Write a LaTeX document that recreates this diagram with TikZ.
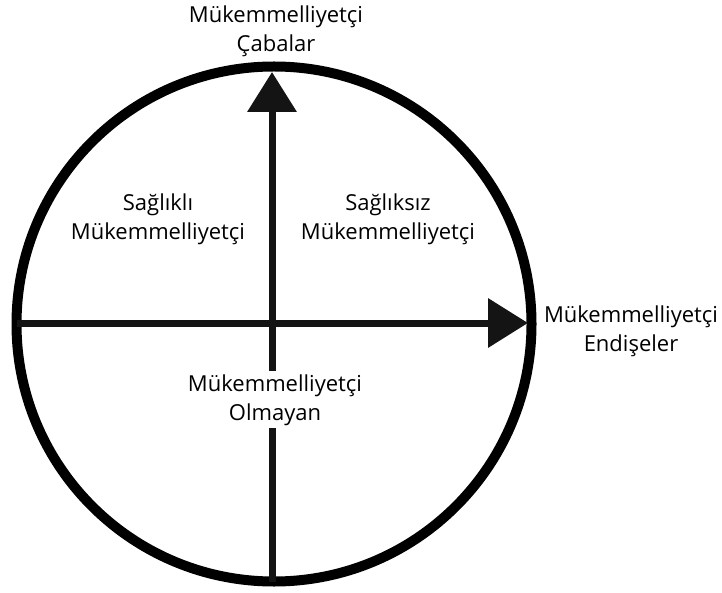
\documentclass[tikz,border=0pt]{standalone}
\usepackage{fontspec}
\setmainfont{Open Sans}
\usetikzlibrary{arrows.meta}
\begin{document}
\begin{tikzpicture}[x=1pt,y=-1pt,
  lbl/.style={align=center,inner sep=0pt,anchor=base,font=\fontsize{22}{29}\selectfont,text=black},
  axis/.style={line width=7pt,draw=black!92,-{Triangle[length=40pt,width=48pt]}}]
\useasboundingbox (0,0) rectangle (722,593);
% outer ring
\draw[line width=10pt] (274,324) circle[radius=257.5];
% axis end points
\coordinate (west) at (17,323);
\coordinate (east) at (528,323);
\coordinate (south) at (272,582);
\coordinate (north) at (272,72);
\draw[axis] (west) -- (east);
\draw[axis] (south) -- (north);
% labels (the base anchor sits on the last line's baseline)
\node[lbl] (top) at (276,52) {Mükemmelliyetçi\\Çabalar};
\node[lbl] (right) at (631,351) {Mükemmelliyetçi\\Endişeler};
\node[lbl] (healthy) at (158,240) {Sağlıklı\\Mükemmelliyetçi};
\node[lbl] (unhealthy) at (388,240) {Sağlıksız\\Mükemmelliyetçi};
\node[lbl,fill=white,inner ysep=3pt] (non) at (275,420) {Mükemmelliyetçi\\Olmayan};
\end{tikzpicture}
\end{document}
